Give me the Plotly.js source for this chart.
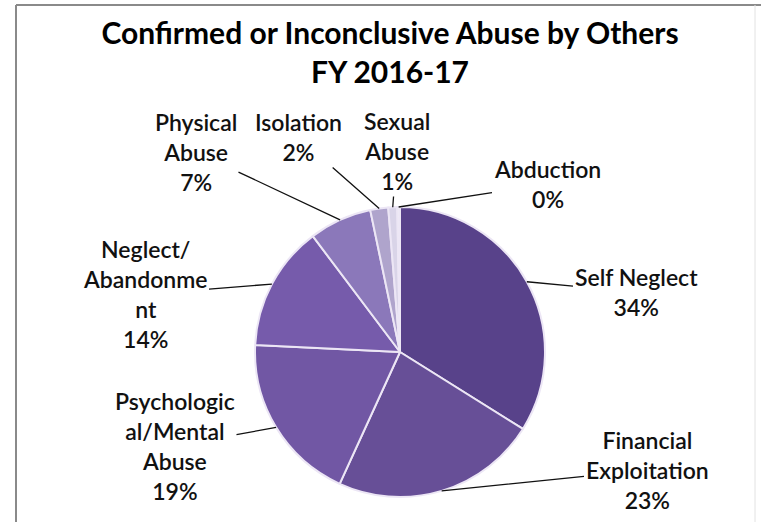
<!DOCTYPE html>
<html>
<head>
<meta charset="utf-8">
<script src="https://cdn.plot.ly/plotly-3.0.1.min.js"></script>
<style>html,body{margin:0;padding:0;background:#fff;}#chart{width:761px;height:522px;}</style>
</head>
<body>
<div id="chart"></div>
<script>
// ---- data ----
var categories = ["Self Neglect", "Financial Exploitation", "Psychological/Mental Abuse",
  "Neglect/Abandonment", "Physical Abuse", "Isolation", "Sexual Abuse", "Abduction"];
var displayLabels = ["Self Neglect", "Financial<br>Exploitation", "Psychologic<br>al/Mental<br>Abuse",
  "Neglect/<br>Abandonme<br>nt", "Physical<br>Abuse", "Isolation", "Sexual<br>Abuse", "Abduction"];
var values = [34, 23, 19, 14, 7, 2, 1, 0.3];
var sliceColors = ["#58428a", "#674f97", "#7157a4", "#765bab", "#8b78ba", "#afa4cc", "#d9d4e8", "#eeebf4"];

// ---- layout geometry ----
var W = 761, H = 522;
var CX = 400, CY = 352, R = 145;
var labelCenters = [[636, 292], [647, 470], [175, 446], [145, 294], [196, 152], [298, 137], [397, 151], [547, 184]];

var total = values.reduce(function (a, b) { return a + b; }, 0);

var trace = {
  type: "pie",
  labels: categories,
  values: values,
  sort: false,
  direction: "clockwise",
  rotation: 0,
  textinfo: "none",
  hoverinfo: "label+percent",
  marker: { colors: sliceColors, line: { color: "#ece6f5", width: 2 } },
  domain: { x: [(CX - R) / W, (CX + R) / W], y: [(H - CY - R) / H, (H - CY + R) / H] },
  showlegend: false
};

var annotations = [];
var cum = 0;
for (var i = 0; i < values.length; i++) {
  var mid = (cum + values[i] / 2) / total * 2 * Math.PI;
  cum += values[i];
  var px = CX + R * Math.sin(mid);
  var py = CY - R * Math.cos(mid);
  var pct = Math.round(values[i] / total * 100);
  annotations.push({
    x: px / W, y: 1 - py / H, xref: "paper", yref: "paper",
    text: displayLabels[i] + "<br>" + pct + "%",
    showarrow: true, arrowhead: 0, arrowwidth: 1.3, arrowcolor: "#111",
    standoff: 0, startstandoff: 0,
    ax: labelCenters[i][0] - px, ay: labelCenters[i][1] - py,
    font: { family: "Lato, 'Open Sans', sans-serif", size: 23, color: "#111", weight: 600 },
    align: "center"
  });
}

var layout = {
  width: W, height: H,
  margin: { l: 0, r: 0, t: 0, b: 0 },
  paper_bgcolor: "#ffffff",
  title: {
    text: "<b>Confirmed or Inconclusive Abuse by Others<br>FY 2016-17</b>",
    x: 390 / W, xref: "paper", xanchor: "center",
    y: 1 - 44 / H, yref: "container", yanchor: "top",
    font: { family: "Lato, 'Open Sans', sans-serif", size: 30, color: "#000" }
  },
  annotations: annotations,
  shapes: [
    { type: "line", xref: "paper", yref: "paper", x0: 16 / W, x1: 16 / W, y0: 0, y1: 1 - 5 / H, line: { color: "#8a8a8a", width: 2 } },
    { type: "line", xref: "paper", yref: "paper", x0: 16 / W, x1: 1, y0: 1 - 5 / H, y1: 1 - 5 / H, line: { color: "#8a8a8a", width: 2 } },
    { type: "line", xref: "paper", yref: "paper", x0: 755 / W, x1: 755 / W, y0: 0, y1: 1 - 5 / H, line: { color: "#e2e2e2", width: 1 } }
  ]
};

Plotly.newPlot("chart", [trace], layout, { displayModeBar: false, staticPlot: true });
</script>
</body>
</html>
